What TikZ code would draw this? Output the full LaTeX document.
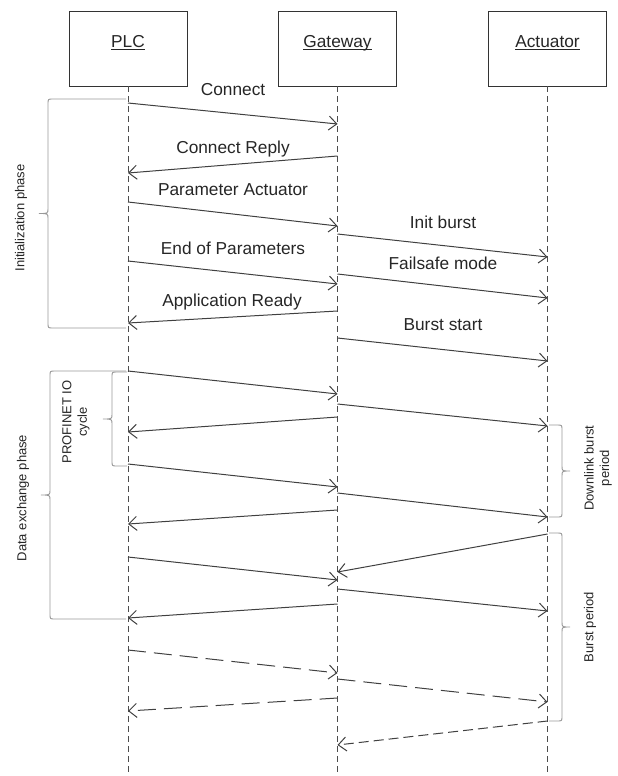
\documentclass[tikz,border=0pt]{standalone}
\usepackage{fontspec}
\setmainfont{Liberation Sans}
\usetikzlibrary{arrows.meta}
\newcommand\BraceShape[6]{%
  \pgfmathsetmacro\bym{(#4+#5)/2}%
  \draw[brace] (#1,#4) -- ({#2+#6},#4) .. controls (#2,#4) .. (#2,{#4+5})
    -- (#2,{\bym-5}) .. controls (#2,\bym) .. (#3,\bym)
    .. controls (#2,\bym) .. (#2,{\bym+5})
    -- (#2,{#5-5}) .. controls (#2,#5) .. ({#2+#6},#5) -- (#1,#5);}
\newcommand\Msg[5][msg]{\draw[#1] (#2 |- 0,#3) -- (#4 |- 0,#5);}
\newcommand\HeadUl[1]{\underline{\smash{#1}}}
\begin{document}
\begin{tikzpicture}[x=1pt,y=-1pt,
  actor/.style={draw=black!80, line width=0.9pt, minimum width=118pt, minimum height=75pt, inner sep=0pt, text=black!85, font=\fontsize{17.3}{20}\selectfont},
  life/.style={draw=black!70, line width=0.9pt, dash pattern=on 6pt off 4pt},
  msg/.style={draw=black!75, line width=1pt, -{Straight Barb[length=8pt,width=14pt]}},
  dmsg/.style={msg, dash pattern=on 18pt off 8pt},
  dmsgs/.style={msg, dash pattern=on 10pt off 5pt},
  lbl/.style={font=\fontsize{17.3}{20}\selectfont, text=black!85, inner sep=0pt},
  side/.style={font=\fontsize{13}{15.5}\selectfont, text=black!85, align=center, rotate=90, inner sep=0pt},
  brace/.style={draw=black!40, line width=0.9pt},
]
\useasboundingbox (0,0) rectangle (618,776);

% actors
\node[actor] (plc) at (128,48.5) {\HeadUl{PLC}};
\node[actor] (gw)  at (337.5,48.5) {\HeadUl{Gateway}};
\node[actor] (act) at (547.5,48.5) {\HeadUl{Actuator}};

% lifelines
\coordinate (plcend) at (plc.south |- 0,776);
\coordinate (gwend) at (gw.south |- 0,776);
\coordinate (actend) at (act.south |- 0,776);
\draw[life] (plc.south) -- (plcend);
\draw[life] (gw.south) -- (gwend);
\draw[life] (act.south) -- (actend);

% braces
\BraceShape{126}{48}{39}{99}{328}{5}
\BraceShape{126}{50}{41}{371}{619}{5}
\BraceShape{127}{112}{103}{372}{466}{5}
\BraceShape{549}{562}{570}{425}{517}{-5}
\BraceShape{549}{562}{570}{533}{721}{-5}

% side labels
\node[side] (l1) at (21,218) {Initialization phase};
\node[side] (l2) at (23,498) {Data exchange phase};
\node[side] (l3) at (76,422) {PROFINET IO\\cycle};
\node[side] (l4) at (598,468) {Downlink burst\\period};
\node[side] (l5) at (590,627) {Burst period};

% initialization messages
\node[lbl] (t1) at (233,90) {Connect};
\Msg{plc}{103}{gw}{124}
\node[lbl] (t2) at (233,149) {Connect Reply};
\Msg{gw}{156}{plc}{173}
\node[lbl] (t3) at (233,190) {Parameter Actuator};
\Msg{plc}{202}{gw}{226}
\node[lbl] (t4) at (443,222) {Init burst};
\Msg{gw}{234}{act}{257}
\node[lbl] (t5) at (233,248) {End of Parameters};
\Msg{plc}{261}{gw}{284}
\node[lbl] (t6) at (443,263) {Failsafe mode};
\Msg{gw}{274}{act}{298}
\node[lbl] (t7) at (232,302) {Application Ready};
\Msg{gw}{311}{plc}{323}
\node[lbl] (t8) at (443,325) {Burst start};
\Msg{gw}{338}{act}{361}

% data exchange
\Msg{plc}{371}{gw}{394}
\Msg{gw}{404}{act}{426}
\Msg{gw}{417}{plc}{432}
\Msg{plc}{464}{gw}{487}
\Msg{gw}{493}{act}{517}
\Msg{gw}{510}{plc}{524}
\Msg{act}{534}{gw}{572}
\Msg{plc}{557}{gw}{580}
\Msg{gw}{589}{act}{611}
\Msg{gw}{604}{plc}{618}

% dashed
\Msg[dmsg]{plc}{650}{gw}{673}
\Msg[dmsg]{gw}{679}{act}{702}
\Msg[dmsg]{gw}{698}{plc}{711}
\Msg[dmsgs]{act}{721}{gw}{745}
\end{tikzpicture}
\end{document}
